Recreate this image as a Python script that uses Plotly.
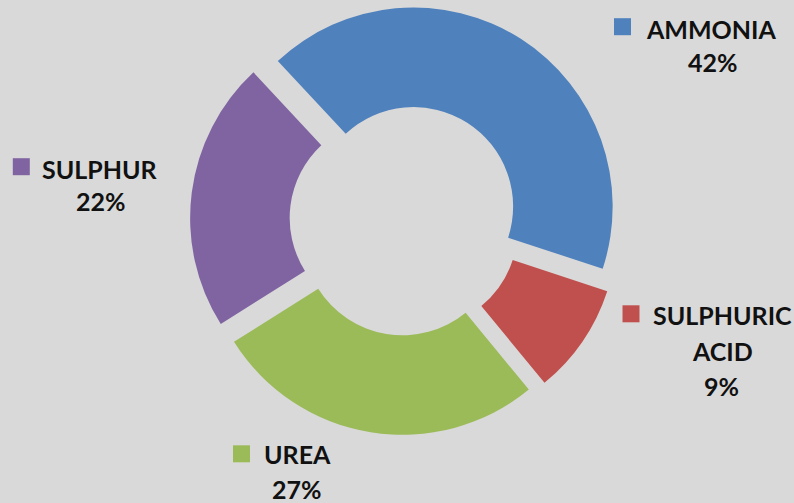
import plotly.graph_objects as go

categories = ["AMMONIA", "SULPHURIC ACID", "UREA", "SULPHUR"]
values = [42, 9, 27, 22]
colors = ["#4F81BD", "#C0504D", "#9BBB59", "#8064A2"]
label_lines = [["AMMONIA"], ["SULPHURIC", "ACID"], ["UREA"], ["SULPHUR"]]

W, H = 794, 503

def px(x):
    return x / W

def py(y):
    return (H - y) / H

fig = go.Figure(go.Pie(
    labels=categories,
    values=values,
    hole=0.5,
    sort=False,
    direction="clockwise",
    rotation=-43,
    pull=[0.08] * len(values),
    marker=dict(colors=colors, line=dict(width=0)),
    textinfo="none",
    hoverinfo="label+percent",
    domain=dict(x=[px(190), px(620)], y=[py(435), py(5)]),
    showlegend=False,
))

# label layout (text centers in pixels): name lines, value line, square key
label_pos = [
    dict(lines=[(711, 29)], val=(713, 62), sq=(622.5, 26.7)),
    dict(lines=[(722, 315), (722, 351)], val=(721, 386), sq=(631, 313.8)),
    dict(lines=[(297, 454)], val=(297, 488.5), sq=(241.5, 453.8)),
    dict(lines=[(100, 168.5)], val=(101, 201.5), sq=(21.3, 166.7)),
]

font = dict(family="Lato", size=25, color="#111111", weight="bold")
annotations = []
shapes = []
for lines, v, c, pos in zip(label_lines, values, colors, label_pos):
    for txt, (x, y) in zip(lines, pos["lines"]):
        annotations.append(dict(x=px(x), y=py(y), xref="paper", yref="paper",
                                text=txt, showarrow=False, font=font,
                                xanchor="center", yanchor="middle", borderpad=0))
    vx, vy = pos["val"]
    annotations.append(dict(x=px(vx), y=py(vy), xref="paper", yref="paper",
                            text=f"{v}%", showarrow=False, font=font,
                            xanchor="center", yanchor="middle", borderpad=0))
    sx, sy = pos["sq"]
    s = 8.5
    shapes.append(dict(type="rect", xref="paper", yref="paper",
                       x0=px(sx - s), x1=px(sx + s), y0=py(sy + s), y1=py(sy - s),
                       fillcolor=c, line=dict(width=0)))

fig.update_layout(
    width=W, height=H,
    margin=dict(l=0, r=0, t=0, b=0),
    paper_bgcolor="#d9d9d9",
    plot_bgcolor="#d9d9d9",
    annotations=annotations,
    shapes=shapes,
)

fig.write_html("out.html", config={"displayModeBar": False},
               post_script="document.body.style.margin='0';")
